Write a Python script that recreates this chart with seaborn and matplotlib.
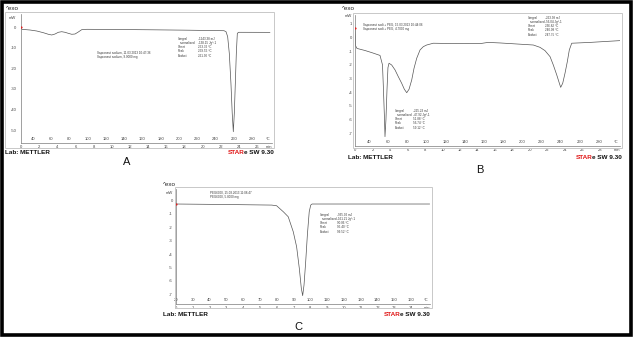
import numpy as np
import pandas as pd
import matplotlib
matplotlib.use("Agg")
import matplotlib.pyplot as plt
from matplotlib.patches import Rectangle
import seaborn as sns

# ---------------- data ----------------
# Panel A : temperature (°C) vs heat flow (mW)
a_temp = [26.8, 27.6, 36.7, 44.0, 51.3, 56.8, 60.5, 64.1, 67.7, 71.4, 75.0, 78.6,
          82.4, 86.0, 89.6, 93.3, 98.8, 130.0, 168.0, 210.0, 249.3, 251.5, 253.3,
          255.1, 256.9, 258.3, 259.5, 260.6, 261.7, 262.8, 263.9, 265.4, 266.8,
          299.7]
a_flow = [0.0, -1.12, -1.46, -1.94, -2.77, -3.54, -3.88, -3.40, -2.57, -2.28,
          -2.57, -3.06, -3.54, -3.40, -2.43, -1.31, -1.12, -1.2, -1.35, -1.55,
          -1.80, -2.28, -4.71, -12.77, -27.33, -41.89, -50.83, -41.89, -27.33,
          -12.77, -3.06, -2.57, -2.57, -2.6]
a_yticks = [4.85, 0, -10, -20, -30, -40, -50]
a_yticklabels = ["mW", "0", "-10", "-20", "-30", "-40", "-50"]
a_temp_labels = [40, 60, 80, 100, 120, 140, 160, 180, 200, 220, 240, 260, 280]
a_time_labels = [0, 2, 4, 6, 8, 10, 12, 14, 16, 18, 20, 22, 24, 26]

# Panel B
b_temp = [25.4, 26.1, 27.5, 35.8, 43.1, 51.5, 54.1, 55.1, 56.2, 56.7, 57.7, 58.8,
          59.8, 60.9, 63.7, 67.2, 70.6, 74.1, 76.9, 79.4, 81.8, 84.6, 87.0, 89.8,
          93.3, 96.7, 100.2, 107.1, 124.6, 155.9, 164.2, 176.8, 211.5, 218.5,
          223.7, 229.0, 232.4, 236.0, 238.7, 240.1, 242.2, 244.6, 247.0, 249.1,
          251.6, 270.7, 302.0]
b_flow = [0.69, -0.62, -0.80, -0.95, -1.11, -1.31, -2.0, -3.8, -6.0, -7.24, -6.0,
          -3.8, -2.2, -1.88, -2.01, -2.37, -2.86, -3.34, -3.78, -4.03, -3.78,
          -3.10, -2.25, -1.52, -0.91, -0.67, -0.55, -0.42, -0.44, -0.45, -0.36,
          -0.40, -0.55, -0.72, -0.96, -1.40, -2.01, -2.74, -3.34, -3.64, -3.34,
          -2.61, -1.77, -0.91, -0.42, -0.36, -0.23]
b_yticks = [1.57, 1, 0, -1, -2, -3, -4, -5, -6, -7]
b_yticklabels = ["mW", "1", "0", "-1", "-2", "-3", "-4", "-5", "-6", "-7"]
b_temp_labels = [40, 60, 80, 100, 120, 140, 160, 180, 200, 220, 240, 260, 280]
b_time_labels = [0, 2, 4, 6, 8, 10, 12, 14, 16, 18, 20, 22, 24, 26, 28]

# Panel C
c_temp = [20.0, 52.1, 77.0, 79.9, 83.9, 86.8, 89.8, 91.8, 93.4, 94.6, 95.4, 96.2,
          97.2, 98.2, 99.3, 100.2, 101.0, 171.0]
c_flow = [-0.26, -0.30, -0.34, -0.39, -0.84, -1.21, -2.33, -3.45, -5.06, -6.55,
          -7.10, -6.31, -4.57, -2.57, -0.84, -0.34, -0.26, -0.26]
c_yticks = [0.63, 0, -1, -2, -3, -4, -5, -6, -7]
c_yticklabels = ["mW", "0", "-1", "-2", "-3", "-4", "-5", "-6", "-7"]
c_temp_labels = [20, 30, 40, 50, 60, 70, 80, 90, 100, 110, 120, 130, 140, 150, 160]
c_time_labels = [0, 1, 2, 3, 4, 5, 6, 7, 8, 9, 10, 11, 12, 13, 14]

# ---------------- figure ----------------
W, H = 635, 338
sns.set_theme(style="white")
plt.rcParams['font.family'] = ['Liberation Sans', 'DejaVu Sans']
fig = plt.figure(figsize=(W / 100, H / 100), dpi=100)

LINE = "#555555"
AX = "#7a7a7a"
FRAME = "#c8c8c8"
TXT = "#444444"


def fx(x):
    return x / W


def fy(y):
    return 1 - y / H


def ftext(x, y, s, **kw):
    fig.text(fx(x), fy(y), s, **kw)


def frame(l, t, r, b, **kw):
    fig.patches.append(Rectangle((fx(l), fy(b)), (r - l) / W, (b - t) / H,
                                 transform=fig.transFigure, fill=False, **kw))


def panel(box, frm, temp, flow, xlim, ylim, yt, ytl, temp_labels, time_labels,
          t0, rate, ypad, exo_xy, footer_y, lab_x):
    l, t, r, b = box
    frame(*frm, edgecolor=FRAME, lw=0.7)
    ax = fig.add_axes([fx(l), fy(b), (r - l) / W, (b - t) / H])
    ax.set_facecolor("none")
    df = pd.DataFrame({"T": temp, "Q": flow})
    sns.lineplot(data=df, x="T", y="Q", ax=ax, color=LINE, lw=0.5, sort=False)
    ax.scatter([temp[0]], [flow[0]], s=2.5, color="#e02020", zorder=5, lw=0)
    ax.set_xlim(*xlim)
    ax.set_ylim(*ylim)
    ax.set_xlabel("")
    ax.set_ylabel("")
    for s in ["top", "right"]:
        ax.spines[s].set_visible(False)
    for s in ["left", "bottom"]:
        ax.spines[s].set_color(AX)
        ax.spines[s].set_linewidth(0.5)
    time_pos = [t0 + rate * v for v in time_labels]
    ax.set_xticks(time_pos, labels=[str(v) for v in time_labels])
    minor = np.arange(xlim[0], xlim[1], rate / 2.0)
    ax.set_xticks(minor, minor=True)
    ax.tick_params(axis="x", which="major", length=1.6, width=0.4, color=AX,
                   direction="inout", pad=0.6, labelsize=3, labelcolor=TXT)
    ax.tick_params(axis="x", which="minor", length=1.0, width=0.3, color=AX,
                   direction="inout")
    ax.set_yticks(yt, labels=ytl)
    ax.tick_params(axis="y", length=1.2, width=0.4, color=AX, direction="inout",
                   pad=ypad, labelsize=3, labelcolor=TXT)
    for v in temp_labels:
        ax.annotate(str(v), (v, ylim[0]), xytext=(0, 1.2), textcoords="offset points",
                    ha="center", va="bottom", fontsize=3, color=TXT)
    ax.annotate("°C", (xlim[1], ylim[0]), xytext=(-2.5, 1.2), textcoords="offset points",
                ha="center", va="bottom", fontsize=3, color=TXT)
    ax.annotate("min", (xlim[1], ylim[0]), xytext=(-2.5, -1.2), textcoords="offset points",
                ha="center", va="top", fontsize=3, color=TXT, annotation_clip=False)
    ftext(exo_xy[0], exo_xy[1], "^exo", fontsize=4.5, ha="left", va="center", color="#222222")
    ftext(lab_x, footer_y, "Lab: METTLER", fontsize=4.6, fontweight="bold",
          ha="left", va="center", color="#111111")
    return ax


# Panel A
axA = panel(box=(21, 14, 272, 143), frm=(5, 12, 274, 148),
            temp=a_temp, flow=a_flow, xlim=(26.8, 301.9), ylim=(-56.3, 6.31),
            yt=a_yticks, ytl=a_yticklabels, temp_labels=a_temp_labels,
            time_labels=a_time_labels, t0=26.8, rate=9.951, ypad=2.8,
            exo_xy=(6, 8), footer_y=152, lab_x=5)
# Panel B
axB = panel(box=(355, 15, 620, 146), frm=(353, 13, 622, 148),
            temp=b_temp, flow=b_flow, xlim=(25.4, 302.0), ylim=(-7.92, 1.64),
            yt=b_yticks, ytl=b_yticklabels, temp_labels=b_temp_labels,
            time_labels=b_time_labels, t0=25.4, rate=9.13, ypad=1.6,
            exo_xy=(342, 9), footer_y=158, lab_x=348)
# Panel C
axC = panel(box=(176, 189, 430, 304), frm=(175, 187, 432, 308),
            temp=c_temp, flow=c_flow, xlim=(20.0, 171.2), ylim=(-7.72, 0.86),
            yt=c_yticks, ytl=c_yticklabels, temp_labels=c_temp_labels,
            time_labels=c_time_labels, t0=20.0, rate=10.0, ypad=1.8,
            exo_xy=(163, 185), footer_y=314, lab_x=163)

# footer "STAR° SW 9.30" (red STAR, black rest)
fig.canvas.draw()
for r, y in [(274, 152), (622, 158), (430, 314)]:
    t2 = fig.text(fx(r), fy(y), "e SW 9.30", fontsize=4.6, fontweight="bold",
                  ha="right", va="center", color="#111111")
    bb = t2.get_window_extent(renderer=fig.canvas.get_renderer())
    fig.text(bb.x0 / fig.bbox.width, fy(y), "STAR", fontsize=4.6, fontweight="bold",
             ha="right", va="center", color="#e01818")

# panel letters
for s, (x, y) in [("A", (127, 162)), ("B", (480, 170)), ("C", (298, 327))]:
    ftext(x, y, s, fontsize=8, ha="center", va="center", color="#111111",
          family=['Liberation Sans Narrow', 'Liberation Sans', 'DejaVu Sans'])

# result boxes / sample info (tiny annotations)
SMALL = dict(fontsize=2.2, color="#3a3a3a", va="top", ha="left", linespacing=1.05)
ftext(178, 37, "Integral\n  normalized\nOnset\nPeak\nEndset", **SMALL)
ftext(198, 37, "-1243.38 mJ\n-138.15 Jg^-1\n253.32 °C\n259.55 °C\n261.30 °C", **SMALL)
ftext(97, 51, "Sapronaut sodium, 11.03.2013 10:47:36\nSapronaut sodium, 9.0000 mg", **SMALL)

ftext(363, 23, "Sapronaut sodi + PEG, 15.03.2013 10:44:06\nSapronaut sodi + PEG, 4.7000 mg", **SMALL)
ftext(528, 16, "Integral\n  normalized\nOnset\nPeak\nEndset", **SMALL)
ftext(545, 16, "-263.38 mJ\n-56.04 Jg^-1\n236.82 °C\n240.08 °C\n247.75 °C", **SMALL)
ftext(395, 109, "Integral\n  normalized\nOnset\nPeak\nEndset", **SMALL)
ftext(413, 109, "-225.23 mJ\n-47.92 Jg^-1\n51.88 °C\n56.74 °C\n59.12 °C", **SMALL)

ftext(210, 191, "PEG6000, 15.03.2013 11:08:47\nPEG6000, 5.8000 mg", **SMALL)
ftext(320, 213, "Integral\n  normalized\nOnset\nPeak\nEndset", **SMALL)
ftext(337, 213, "-935.02 mJ\n-161.21 Jg^-1\n90.06 °C\n95.40 °C\n99.52 °C", **SMALL)

# outer black border
fig.patches.append(Rectangle((fx(1.5), fy(334.5)), 629 / W, 333 / H,
                             transform=fig.transFigure, fill=False,
                             edgecolor="black", lw=2.6))

fig.savefig("out.png", dpi=100)
